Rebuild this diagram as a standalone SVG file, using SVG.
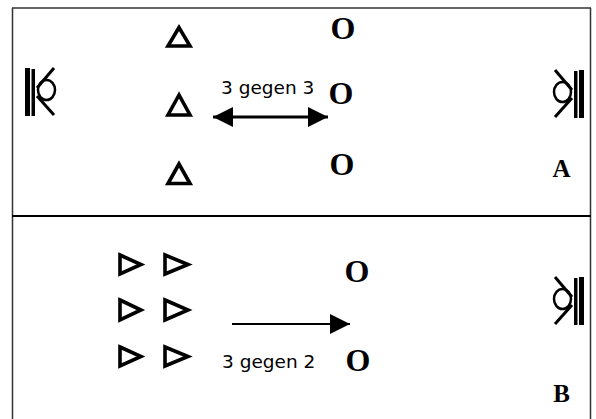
<svg xmlns="http://www.w3.org/2000/svg" xmlns:xlink="http://www.w3.org/1999/xlink" width="596" height="419" viewBox="0 0 596 419">
<style>
.tri{fill:none;stroke:#000;stroke-width:3.6;stroke-linejoin:miter}
.opp{font-family:"Liberation Serif","Times New Roman",serif;font-weight:bold;font-size:32px;fill:#000;text-anchor:middle}
.lbl{font-family:"Liberation Serif","Times New Roman",serif;font-weight:bold;font-size:25px;fill:#000;text-anchor:middle}
.txt{font-family:"DejaVu Sans","Liberation Sans",sans-serif;font-size:18.5px;fill:#000}
.frame{stroke:#333;stroke-width:1.5;fill:none}
.conn{stroke:#000;fill:none}
</style>
<defs>
<g id="keeper">
<rect x="25" y="68" width="5" height="48" fill="#000"/>
<rect x="31.5" y="69" width="3.5" height="47" fill="#000"/>
<line x1="54" y1="68" x2="37" y2="88" stroke="#000" stroke-width="3"/>
<ellipse cx="46.5" cy="90" rx="8.5" ry="10" fill="none" stroke="#000" stroke-width="2.5"/>
<line x1="37" y1="96" x2="54" y2="115" stroke="#000" stroke-width="3"/>
</g>
<marker id="head" viewBox="0 0 10 10" refX="10" refY="5" markerWidth="21" markerHeight="20" markerUnits="userSpaceOnUse" orient="auto-start-reverse">
<path d="M0,0 L10,5 L0,10 Z" fill="#000"/>
</marker>
</defs>
<g id="frame">
<line class="frame" x1="12" y1="8" x2="591" y2="8"/>
<line class="frame" x1="12.5" y1="8" x2="12.5" y2="419"/>
<line class="frame" x1="590.5" y1="8" x2="590.5" y2="419"/>
<line x1="12" y1="216" x2="591" y2="216" stroke="#000" stroke-width="2"/>
</g>
<g id="keeper-left-A"><use xlink:href="#keeper"/></g>
<g id="keeper-right-A"><use xlink:href="#keeper" transform="translate(609,2) scale(-1,1)"/></g>
<g id="keeper-right-B"><use xlink:href="#keeper" transform="translate(609,209) scale(-1,1)"/></g>
<g id="attackers-A">
<polygon class="tri" points="179,27.5 168,46 190,46"/>
<polygon class="tri" points="179,95 168,115 190,115"/>
<polygon class="tri" points="179,164 168,183.5 190,183.5"/>
</g>
<g id="defenders-A">
<text class="opp" x="343" y="39">O</text>
<text class="opp" x="341" y="104">O</text>
<text class="opp" x="342" y="175">O</text>
</g>
<g id="label-A"><text class="lbl" x="561.5" y="177">A</text></g>
<g id="attackers-B">
<polygon class="tri" points="120,255 141,264.5 120,274"/>
<polygon class="tri" points="165,255 188,264.5 165,274"/>
<polygon class="tri" points="120,300 141,310 120,320"/>
<polygon class="tri" points="165,300 188,310 165,320"/>
<polygon class="tri" points="120,347 141,356.5 120,366"/>
<polygon class="tri" points="165,347 188,356.5 165,366"/>
</g>
<g id="defenders-B">
<text class="opp" x="357" y="282">O</text>
<text class="opp" x="358" y="371">O</text>
</g>
<g id="label-B"><text class="lbl" x="561.5" y="402">B</text></g>
<g id="connectors">
<line class="conn" x1="213" y1="117" x2="328" y2="117" stroke-width="3" marker-start="url(#head)" marker-end="url(#head)"/>
<line class="conn" x1="232" y1="324" x2="350" y2="324" stroke-width="2" marker-end="url(#head)"/>
</g>
<g id="texts">
<text class="txt" x="221" y="94">3 gegen 3</text>
<text class="txt" x="222" y="368">3 gegen 2</text>
</g>
</svg>
